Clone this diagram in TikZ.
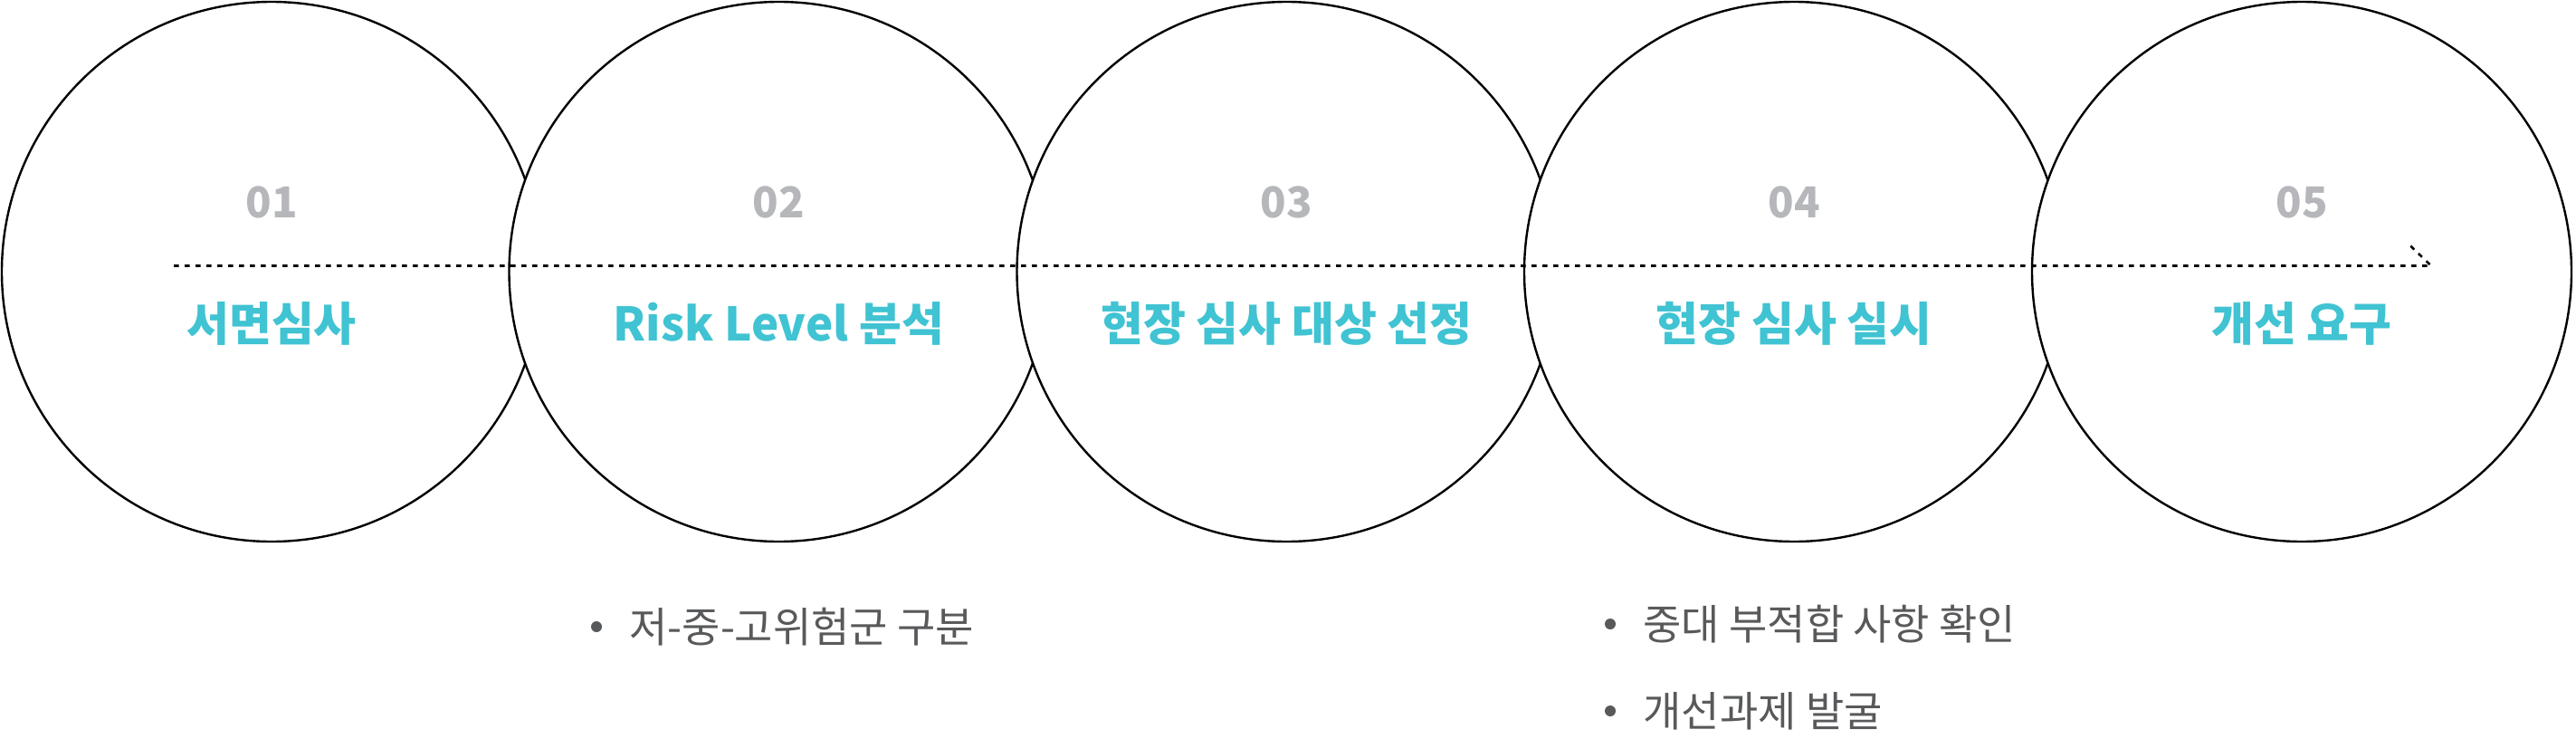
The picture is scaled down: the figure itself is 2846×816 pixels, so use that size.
\documentclass[tikz,border=0pt]{standalone}
\usepackage{fontspec}
\usetikzlibrary{positioning}
\setmainfont{Noto Sans CJK KR}
\definecolor{stageteal}{HTML}{40C3D2}
\definecolor{numgray}{HTML}{B5B7BA}
\definecolor{itemgray}{HTML}{58595B}
\tikzset{
  stage/.style={circle,draw=black,line width=2.4pt,fill=white,minimum size=596pt,inner sep=0pt},
  stagenum/.style={font=\bfseries\fontsize{47}{47}\selectfont,text=numgray,inner sep=0pt},
  stagetitle/.style={font=\bfseries\fontsize{51}{51}\selectfont,text=stageteal,inner sep=0pt},
  flow/.style={line width=2.6pt,dash pattern=on 5.5pt off 6.5pt},
  itemdot/.style={circle,fill=itemgray,minimum size=12pt,inner sep=0pt},
  item/.style={font=\fontsize{46}{46}\selectfont,text=itemgray,inner sep=0pt,right=30pt of #1}
}
\begin{document}
\begin{tikzpicture}[x=1pt,y=1pt]
    \useasboundingbox (0,0) rectangle (2846,-816);
    % five stages, each one drawn over the one before it
    \foreach \i/\x/\n/\t in {1/300/01/서면심사,2/860.5/02/Risk Level 분석,
        3/1421.5/03/현장 심사 대상 선정,4/1982/04/현장 심사 실시,5/2543/05/개선 요구} {
      \node[stage] (s\i) at (\x,-300) {};
      \node[stagenum] (n\i) at (\x,-223) {\n};
      \node[stagetitle] (t\i) at (\x,-357) {\t};
    }
    % dotted flow line with a half arrow head
    \coordinate (start) at (192,-293.5);
    \coordinate (tip) at (2686,-293.5);
    \draw[flow] (start) -- (tip) -- ++(-27,26);
    % notes under stage 2 and stage 4
    \node[itemdot] (b1) at (659,-692) {};
    \node[item=b1] (i1) {저-중-고위험군 구분};
    \node[itemdot] (b2) at (1779,-689) {};
    \node[item=b2] (i2) {중대 부적합 사항 확인};
    \node[itemdot] (b3) at (1779,-785) {};
    \node[item=b3] (i3) {개선과제 발굴};
\end{tikzpicture}
\end{document}
